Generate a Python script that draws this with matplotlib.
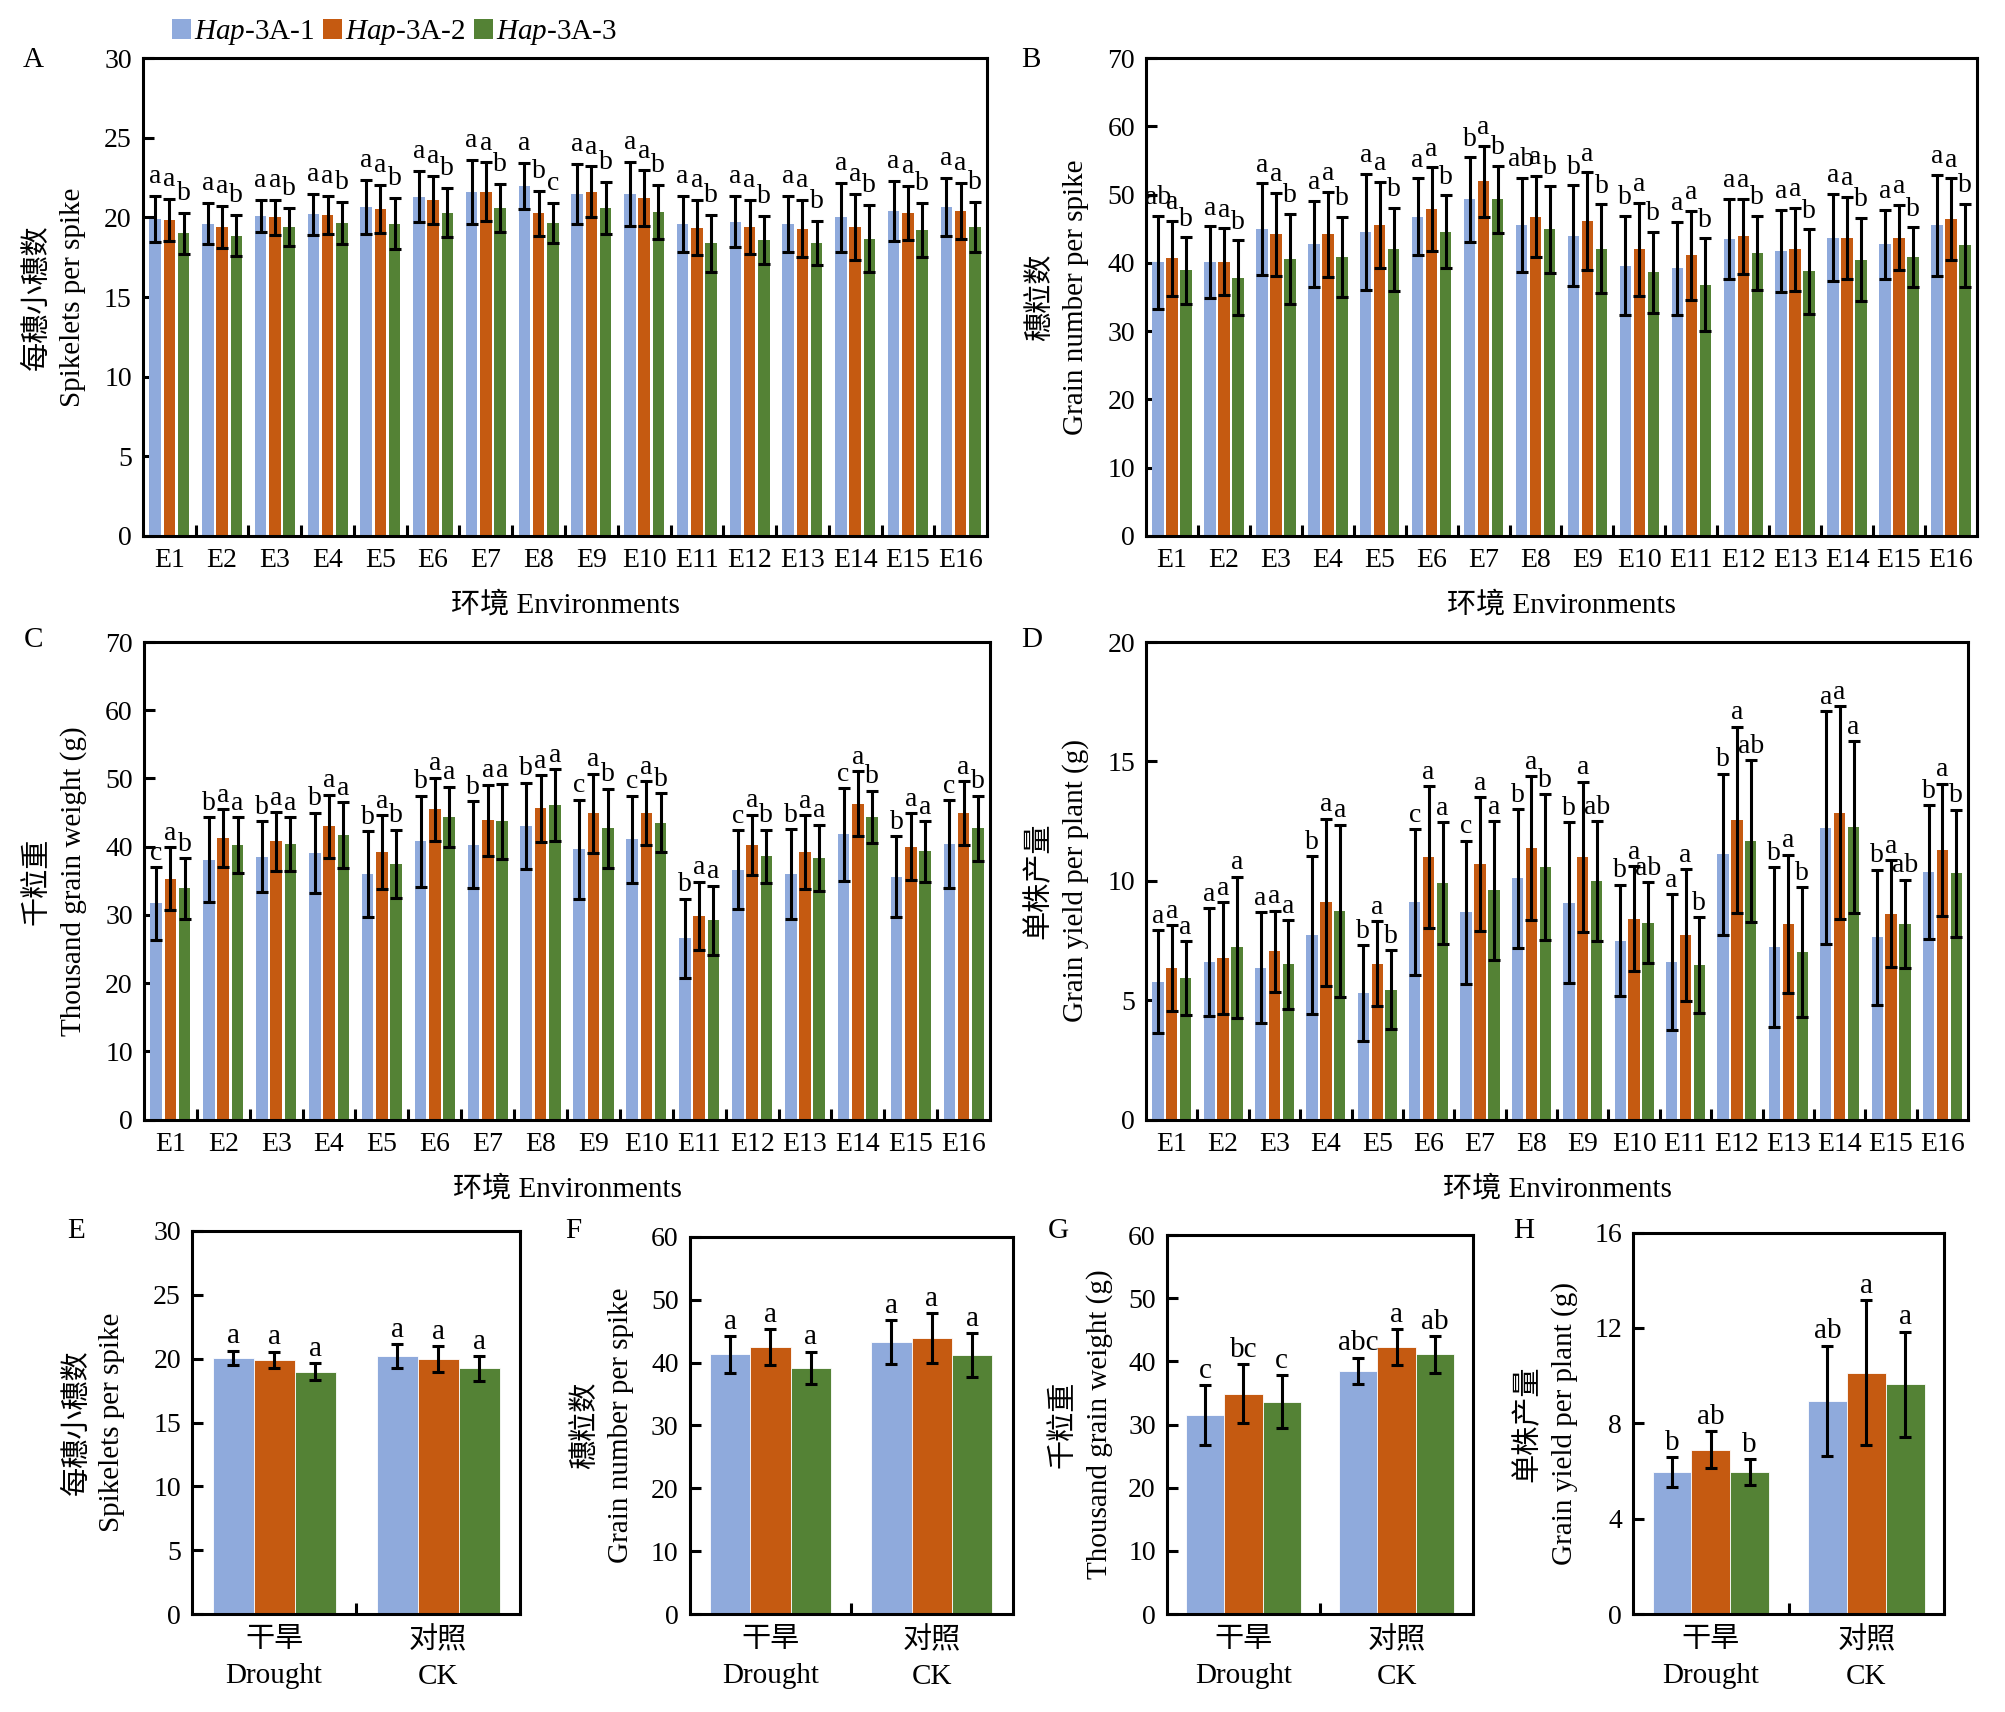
import numpy as np
import matplotlib
matplotlib.use("Agg")
import matplotlib.pyplot as plt
from matplotlib.patches import Patch

plt.rcParams['font.family'] = ['Liberation Serif', 'Noto Sans CJK SC']
plt.rcParams['mathtext.fontset'] = 'custom'
plt.rcParams['mathtext.it'] = 'Liberation Serif:italic'
plt.rcParams['mathtext.rm'] = 'Liberation Serif'

# categories
envs = ['E%d' % i for i in range(1, 17)]
treatments = ['干旱\nDrought', '对照\nCK']
hap_labels = [r'$\mathit{Hap}$-3A-1', r'$\mathit{Hap}$-3A-2', r'$\mathit{Hap}$-3A-3']
colors = ['#8FAADC', '#C55A11', '#548235']

# A  spikelets per spike (rows: Hap-3A-1, -2, -3)
spk_mean = [
    [19.9, 19.6, 20.1, 20.2, 20.66, 21.3, 21.6, 21.96, 21.46, 21.46, 19.6, 19.74, 19.6, 20.0, 20.4, 20.66],
    [19.85, 19.4, 20.0, 20.15, 20.54, 21.1, 21.6, 20.26, 21.6, 21.2, 19.35, 19.4, 19.3, 19.4, 20.3, 20.4],
    [19.0, 18.85, 19.4, 19.65, 19.6, 20.3, 20.6, 19.64, 20.6, 20.36, 18.37, 18.6, 18.4, 18.67, 19.2, 19.4],
]
spk_err = [
    [1.47, 1.3, 1.0, 1.3, 1.7, 1.6, 2.0, 1.45, 1.9, 2.0, 1.76, 1.6, 1.76, 2.15, 1.9, 1.8],
    [1.3, 1.3, 1.1, 1.2, 1.5, 1.5, 1.85, 1.4, 1.6, 1.75, 1.73, 1.7, 1.8, 2.1, 1.7, 1.75],
    [1.3, 1.3, 1.2, 1.3, 1.6, 1.55, 1.5, 1.25, 1.65, 1.7, 1.8, 1.5, 1.4, 2.1, 1.7, 1.6],
]
spk_let = ['a a b', 'a a b', 'a a b', 'a a b', 'a a b', 'a a b', 'a a b', 'a b c',
           'a a b', 'a a b', 'a a b', 'a a b', 'a a b', 'a a b', 'a a b', 'a a b']

# B  grain number per spike
gns_mean = [
    [40.1, 40.1, 45.0, 42.8, 44.6, 46.8, 49.3, 45.6, 44.0, 39.6, 39.2, 43.5, 41.8, 43.7, 42.7, 45.5],
    [40.7, 40.2, 44.2, 44.2, 45.6, 47.9, 52.0, 46.8, 46.1, 42.0, 41.1, 43.9, 42.0, 43.7, 43.7, 46.4],
    [38.9, 37.8, 40.6, 40.9, 42.0, 44.6, 49.3, 44.9, 42.1, 38.6, 36.8, 41.5, 38.75, 40.5, 40.8, 42.6],
]
gns_err = [
    [6.8, 5.3, 6.7, 6.3, 8.5, 5.6, 6.2, 6.9, 7.4, 7.3, 6.8, 5.9, 6.0, 6.4, 5.1, 7.4],
    [5.5, 4.9, 6.1, 6.2, 6.3, 6.1, 5.2, 6.0, 7.2, 6.8, 6.5, 5.5, 6.1, 6.0, 4.8, 6.0],
    [4.85, 5.5, 6.6, 5.9, 6.1, 5.3, 4.9, 6.4, 6.5, 6.0, 6.8, 5.4, 6.2, 6.1, 4.4, 6.1],
]
gns_let = ['ab a b', 'a a b', 'a a b', 'a a b', 'a a b', 'a a b', 'b a b', 'ab a b',
           'b a b', 'b a b', 'a a b', 'a a b', 'a a b', 'a a b', 'a a b', 'a a b']

# C  thousand grain weight
tgw_mean = [
    [31.7, 38.1, 38.5, 39.1, 36.0, 40.8, 40.3, 43.1, 39.6, 41.1, 26.6, 36.6, 36.0, 41.8, 35.6, 40.4],
    [35.3, 41.25, 40.8, 43.0, 39.2, 45.5, 43.9, 45.6, 44.9, 44.9, 29.9, 40.3, 39.2, 46.3, 40.0, 44.9],
    [33.9, 40.2, 40.4, 41.7, 37.5, 44.4, 43.7, 46.1, 42.7, 43.5, 29.2, 38.6, 38.35, 44.4, 39.3, 42.7],
]
tgw_err = [
    [5.3, 6.2, 5.2, 5.9, 6.3, 6.7, 6.4, 6.3, 7.3, 6.4, 5.8, 5.8, 6.6, 6.8, 5.9, 6.4],
    [4.6, 4.25, 4.3, 4.6, 5.4, 4.6, 5.2, 4.9, 5.8, 4.7, 5.0, 4.4, 5.4, 4.8, 4.9, 4.7],
    [4.45, 4.1, 3.9, 4.8, 5.0, 4.4, 5.5, 5.3, 5.8, 4.3, 5.1, 3.9, 4.85, 3.8, 4.4, 4.8],
]
tgw_let = ['c a b', 'b a a', 'b a a', 'b a a', 'b a b', 'b a a', 'b a a', 'b a a',
           'c a b', 'c a b', 'b a a', 'c a b', 'b a a', 'c a b', 'b a a', 'c a b']

# D  grain yield per plant
gyp_mean = [
    [5.78, 6.59, 6.36, 7.72, 5.31, 9.1, 8.68, 10.1, 9.08, 7.5, 6.59, 11.12, 7.22, 12.23, 7.63, 10.37],
    [6.34, 6.77, 7.05, 9.1, 6.52, 11.0, 10.7, 11.37, 11.0, 8.41, 7.72, 12.56, 8.2, 12.86, 8.63, 11.29],
    [5.93, 7.22, 6.5, 8.75, 5.44, 9.9, 9.6, 10.57, 10.0, 8.25, 6.47, 11.67, 7.02, 12.25, 8.2, 10.32],
]
gyp_err = [
    [2.15, 2.26, 2.32, 3.3, 2.0, 3.05, 3.0, 2.9, 3.37, 2.33, 2.84, 3.37, 3.35, 4.87, 2.83, 2.79],
    [1.8, 2.33, 1.7, 3.5, 1.78, 2.97, 2.8, 3.0, 3.15, 2.2, 2.77, 3.9, 2.9, 4.45, 2.24, 2.77],
    [1.54, 2.95, 1.85, 3.6, 1.66, 2.55, 2.9, 3.05, 2.5, 1.7, 2.0, 3.38, 2.72, 3.6, 1.84, 2.66],
]
gyp_let = ['a a a', 'a a a', 'a a a', 'b a a', 'b a b', 'c a a', 'c a a', 'b a b',
           'b a ab', 'b a ab', 'a a b', 'b a ab', 'b a b', 'a a a', 'b a ab', 'b a b']

# E-H  drought vs CK (rows: Hap; cols: drought, CK)
e_mean = [[20.05, 20.2], [19.9, 19.97], [18.98, 19.24]]
e_err = [[0.58, 0.95], [0.65, 1.02], [0.65, 0.96]]
e_let = [['a', 'a'], ['a', 'a'], ['a', 'a']]
f_mean = [[41.3, 43.3], [42.45, 43.9], [39.15, 41.2]]
f_err = [[2.9, 3.5], [2.85, 4.0], [2.6, 3.5]]
f_let = [['a', 'a'], ['a', 'a'], ['a', 'a']]
g_mean = [[31.5, 38.5], [34.9, 42.3], [33.6, 41.1]]
g_err = [[4.75, 2.1], [4.7, 2.8], [4.2, 2.9]]
g_let = [['c', 'abc'], ['bc', 'a'], ['c', 'ab']]
h_mean = [[5.94, 8.95], [6.9, 10.13], [5.96, 9.64]]
h_err = [[0.63, 2.3], [0.78, 3.03], [0.54, 2.2]]
h_let = [['b', 'ab'], ['ab', 'a'], ['b', 'a']]

lab_spk = '每穗小穗数\nSpikelets per spike'
lab_gns = '穗粒数\nGrain number per spike'
lab_tgw = '千粒重\nThousand grain weight (g)'
lab_gyp = '单株产量\nGrain yield per plant (g)'

FS = 20
LW = 2.2


def style_axis(ax, ymax, step, ylabel, labelpad):
    for s in ax.spines.values():
        s.set_linewidth(LW)
    ax.set_ylim(0, ymax)
    ax.set_yticks(np.arange(0, ymax + 0.01, step))
    ax.tick_params(axis='y', direction='in', length=8, width=LW, labelsize=FS, pad=8)
    ax.tick_params(axis='x', which='major', length=0, labelsize=FS, pad=9)
    ax.tick_params(axis='x', which='minor', direction='in', length=8, width=LW)
    ax.set_ylabel(ylabel, fontsize=21, labelpad=labelpad, linespacing=1.45)


def env_panel(ax, means, errs, letters, ymax, step, ylabel, off):
    x = np.arange(len(envs))
    lets = [s.split() for s in letters]
    for k in range(3):
        xs = x + (k - 1) * 0.27
        ax.bar(xs, means[k], 0.22, color=colors[k], zorder=2)
        ax.errorbar(xs, means[k], yerr=errs[k], fmt='none', ecolor='black',
                    elinewidth=LW, capsize=4.5, capthick=LW, zorder=3)
        for i in range(len(envs)):
            ax.annotate(lets[i][k], (xs[i], means[k][i] + errs[k][i]), xytext=(0, off),
                        textcoords='offset points', ha='center', va='bottom', fontsize=FS)
    ax.set_xlim(-0.5, len(envs) - 0.5)
    ax.set_xticks(x)
    ax.set_xticklabels(envs)
    ax.set_xticks(np.arange(0.5, len(envs) - 1, 1), minor=True)
    style_axis(ax, ymax, step, ylabel, 13)
    ax.set_xlabel('环境 Environments', fontsize=21, labelpad=13)


def trt_panel(ax, means, errs, letters, ymax, step, ylabel, pad=10):
    x = np.arange(len(treatments))
    for k in range(3):
        xs = x + (k - 1) * 0.25
        ax.bar(xs, means[k], 0.25, color=colors[k], edgecolor='white', linewidth=0.6, zorder=2)
        ax.errorbar(xs, means[k], yerr=errs[k], fmt='none', ecolor='black',
                    elinewidth=LW, capsize=4.5, capthick=LW, zorder=3)
        for i in range(len(treatments)):
            ax.annotate(letters[k][i], (xs[i], means[k][i] + errs[k][i]), xytext=(0, 1),
                        textcoords='offset points', ha='center', va='bottom', fontsize=21)
    ax.set_xlim(-0.5, len(treatments) - 0.5)
    ax.set_xticks(x)
    ax.set_xticklabels(treatments, linespacing=1.5)
    ax.set_xticks([0.5], minor=True)
    style_axis(ax, ymax, step, ylabel, pad)
    ax.tick_params(axis='x', which='major', labelsize=21)


fig = plt.figure(figsize=(20.05, 17.12), dpi=100)

axA = fig.add_axes([0.0713, 0.687, 0.421, 0.279])
axB = fig.add_axes([0.5716, 0.687, 0.4144, 0.279])
axC = fig.add_axes([0.0718, 0.346, 0.422, 0.279])
axD = fig.add_axes([0.5716, 0.346, 0.41, 0.279])
axE = fig.add_axes([0.0958, 0.0572, 0.1636, 0.2238])
axF = fig.add_axes([0.344, 0.0572, 0.161, 0.2203])
axG = fig.add_axes([0.582, 0.0572, 0.1527, 0.2214])
axH = fig.add_axes([0.8145, 0.0572, 0.1551, 0.2228])

env_panel(axA, spk_mean, spk_err, spk_let, 30, 5, lab_spk, 5)
env_panel(axB, gns_mean, gns_err, gns_let, 70, 10, lab_gns, 4)
env_panel(axC, tgw_mean, tgw_err, tgw_let, 70, 10, lab_tgw, 1)
env_panel(axD, gyp_mean, gyp_err, gyp_let, 20, 5, lab_gyp, 1)
trt_panel(axE, e_mean, e_err, e_let, 30, 5, lab_spk, pad=20)
trt_panel(axF, f_mean, f_err, f_let, 60, 10, lab_gns, pad=12)
trt_panel(axG, g_mean, g_err, g_let, 60, 10, lab_tgw, pad=11)
trt_panel(axH, h_mean, h_err, h_let, 16, 4, lab_gyp, pad=12)

# panel letters
for t, x, y in [('A', 0.0165, 0.965), ('B', 0.514, 0.965), ('C', 0.0165, 0.626),
                ('D', 0.5147, 0.626), ('E', 0.038, 0.281), ('F', 0.286, 0.281),
                ('G', 0.528, 0.281), ('H', 0.76, 0.281)]:
    fig.text(x, y, t, fontsize=21, ha='center', va='center')

handles = [Patch(facecolor=c) for c in colors]
fig.legend(handles, hap_labels, loc='center left', bbox_to_anchor=(0.0858, 0.981),
           ncol=3, frameon=False, fontsize=21, handlelength=0.65, handleheight=0.65,
           handletextpad=0.1, columnspacing=0.3, borderpad=0, borderaxespad=0)

fig.savefig('out.png', dpi=100)
